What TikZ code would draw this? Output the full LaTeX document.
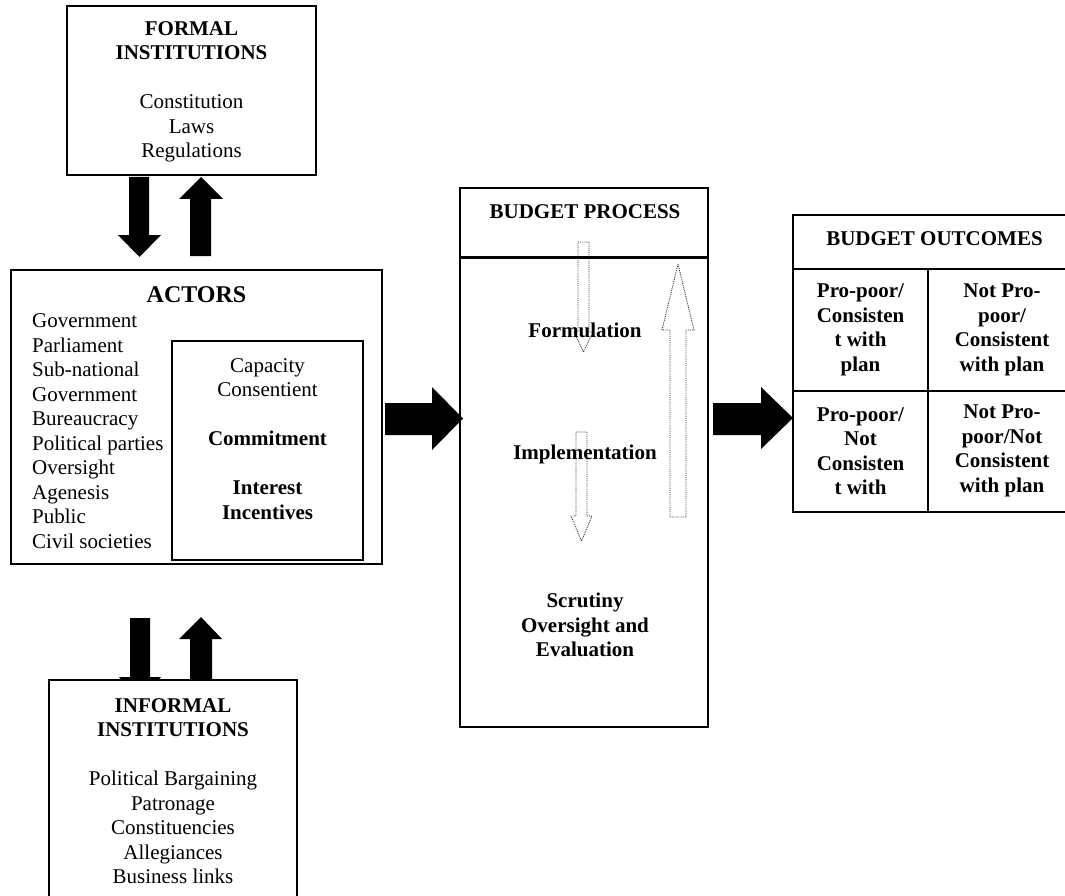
\documentclass[tikz,border=0pt]{standalone}
\usepackage{fontspec}
\setmainfont{Liberation Serif}
\begin{document}
\begin{tikzpicture}[x=1pt,y=-1pt,
  box/.style={draw, line width=1.5pt, fill=white, inner sep=0pt},
  tbox/.style={draw, line width=2pt, inner sep=0pt},
  txt/.style={font=\fontsize{21}{24.5}\selectfont, align=center, inner sep=0pt},
  btxt/.style={font=\fontsize{21}{24.5}\selectfont\bfseries, align=center, inner sep=0pt},
  blockarrow/.style={fill=black, draw=none},
  hollowarrow/.style={draw=black!80, densely dotted, line width=0.9pt}]
\clip (0,0) rectangle (1065,896);
\useasboundingbox (0,0) rectangle (1065,896);

% vertical block arrows (drawn before boxes)
\fill[blockarrow] (129,177) -- (149,177) -- (149,235) -- (161,235) -- (139.5,257) -- (118,235) -- (129,235) -- cycle;
\fill[blockarrow] (190,256) -- (211,256) -- (211,199) -- (223,199) -- (201,177) -- (179,199) -- (190,199) -- cycle;
\fill[blockarrow] (130,618) -- (150,618) -- (150,677) -- (161,677) -- (140,699) -- (119,677) -- (130,677) -- cycle;
\fill[blockarrow] (190,684) -- (212,684) -- (212,639) -- (222,639) -- (201,617) -- (179,639) -- (190,639) -- cycle;

% boxes
\node[box, minimum width=249pt, minimum height=169pt] (formal) at (191.5,90.5) {};
\node[box, minimum width=371pt, minimum height=294pt] (actors) at (196.5,417) {};
\node[box, minimum width=191pt, minimum height=219pt] (drivers) at (267.5,450.5) {};
\node[box, minimum width=248pt, minimum height=240pt] (informal) at (173,800) {};
\node[box, line width=1.6pt, minimum width=248pt, minimum height=539pt] (process) at (584,457.5) {};
\coordinate (hdr) at (0,257);
\draw[line width=3pt] (process.west |- hdr) -- (process.east |- hdr);

% outcomes table
\node[tbox, minimum width=283pt, minimum height=54pt] (outhead) at (934.5,242) {};
\node[tbox, minimum width=135pt, minimum height=122pt] (c11) at (860.5,330) {};
\node[tbox, minimum width=148pt, minimum height=122pt] (c12) at (1002,330) {};
\node[tbox, minimum width=135pt, minimum height=121pt] (c21) at (860.5,451.5) {};
\node[tbox, minimum width=148pt, minimum height=121pt] (c22) at (1002,451.5) {};

% horizontal block arrows
\fill[blockarrow] (385,403) -- (432,403) -- (432,387) -- (463,418.5) -- (432,450) -- (432,435) -- (385,435) -- cycle;
\fill[blockarrow] (713,403) -- (761,403) -- (761,387) -- (793,418) -- (761,449) -- (761,435) -- (713,435) -- cycle;

% hollow dotted arrows in the budget process
\draw[hollowarrow] (578,242) -- (589,242) -- (589,332) -- (593,332) -- (583.5,352) -- (574,332) -- (578,332) -- cycle;
\draw[hollowarrow] (576,432) -- (587,432) -- (587,516) -- (592,516) -- (581.5,541) -- (571,516) -- (576,516) -- cycle;
\draw[hollowarrow] (670,517) -- (686,517) -- (686,330) -- (694,330) -- (678,264) -- (662,330) -- (670,330) -- cycle;

% texts
\node[txt] (formaltxt) at (191.5,92) {\textbf{FORMAL}\\\textbf{INSTITUTIONS}\\[24.5pt]Constitution\\Laws\\Regulations};
\node[font=\fontsize{24}{28}\selectfont\bfseries, inner sep=0pt] (actorstitle) at (196.5,295) {ACTORS};
\node[txt, align=left, anchor=west] (actorslist) at (32,431) {Government\\Parliament\\Sub-national\\Government\\Bureaucracy\\Political parties\\Oversight\\Agenesis\\Public\\Civil societies};
\node[txt] (driverstxt) at (267.5,439) {Capacity\\Consentient\\[24.5pt]\textbf{Commitment}\\[24.5pt]\textbf{Interest}\\\textbf{Incentives}};
\node[txt] (informaltxt) at (173,791) {\textbf{INFORMAL}\\\textbf{INSTITUTIONS}\\[24.5pt]Political Bargaining\\Patronage\\Constituencies\\Allegiances\\Business links};

\node[btxt] (processtitle) at (585,212) {BUDGET PROCESS};
\node[btxt] (formulation) at (585,330) {Formulation};
\node[btxt] (implementation) at (585,454) {Implementation};
\node[btxt] (scrutiny) at (585,625) {Scrutiny\\Oversight and\\Evaluation};

\node[btxt] (outtitle) at (934.5,239) {BUDGET OUTCOMES};
\node[btxt] (t11) at (860.5,330) {Pro-poor/\\Consisten\\t with\\plan};
\node[btxt] (t12) at (1002,330) {Not Pro-\\poor/\\Consistent\\with plan};
\node[btxt] (t21) at (860.5,451) {Pro-poor/\\Not\\Consisten\\t with};
\node[btxt] (t22) at (1002,451) {Not Pro-\\poor/Not\\Consistent\\with plan};
\end{tikzpicture}
\end{document}
